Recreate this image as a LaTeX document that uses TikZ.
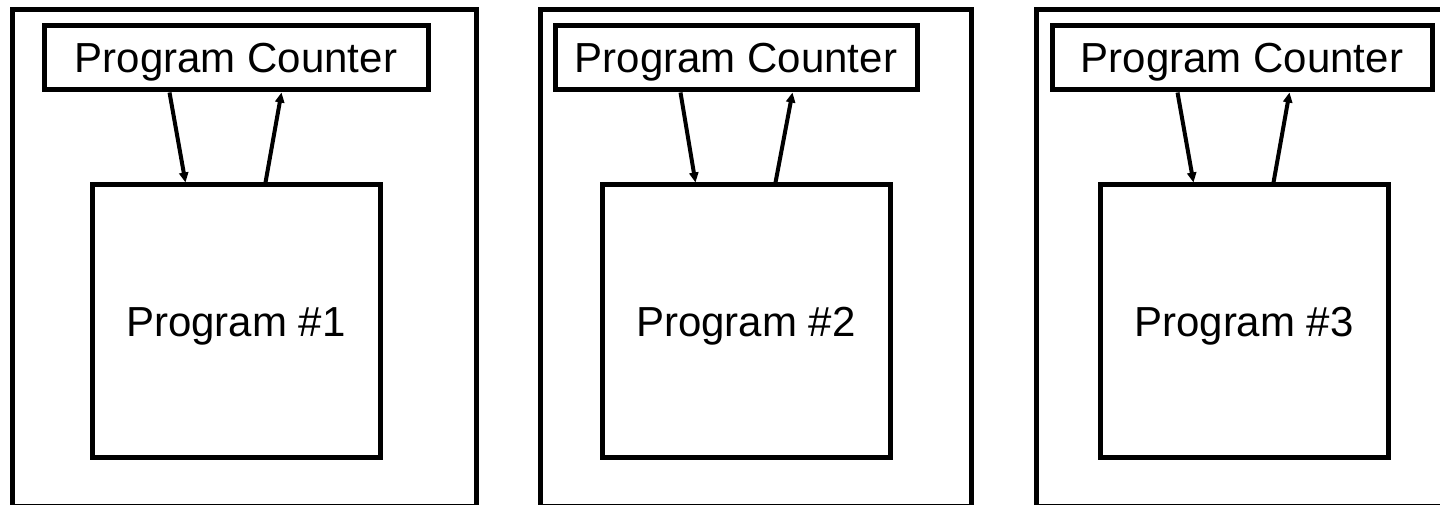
\documentclass[tikz,border=0pt]{standalone}
\usepackage{fontspec}
\setmainfont{Liberation Sans}
\usetikzlibrary{arrows.meta,calc}
\begin{document}
\begin{tikzpicture}[x=1pt,y=-1pt,
  frame/.style={draw=black,line width=5pt,inner sep=0pt,rectangle},
  pcbox/.style={draw=black,line width=5pt,inner sep=0pt,minimum height=64pt,
     font=\fontsize{42}{50}\selectfont,text height=30pt,text depth=0pt},
  progbox/.style={draw=black,line width=5pt,inner sep=0pt,minimum width=288pt,minimum height=272pt,
     font=\fontsize{42}{50}\selectfont,text height=30pt,text depth=0pt},
  arr/.style={line width=4pt,-{Triangle[length=10pt,width=9pt]}}]
\useasboundingbox (0,0) rectangle (1440,505);
\clip (0,0) rectangle (1440,505);
% outer frames
\node[frame,minimum width=464pt,minimum height=496pt] (f1) at (244,258) {};
\node[frame,minimum width=431pt,minimum height=496pt] (f2) at (755.5,258) {};
\node[frame,minimum width=464pt,minimum height=496pt] (f3) at (1268,258) {};
% program counters
\node[pcbox,minimum width=384pt] (pc1) at (236,58) {Program Counter};
\node[pcbox,minimum width=362pt] (pc2) at (736,58) {Program Counter};
\node[pcbox,minimum width=380pt] (pc3) at (1242,58) {Program Counter};
% programs
\node[progbox] (p1) at (236,321) {Program \#1};
\node[progbox] (p2) at (746,321) {Program \#2};
\node[progbox] (p3) at (1244,321) {Program \#3};
% arrows
\foreach \i in {1,2,3}{
  \draw[arr] ($(pc\i.south west)+(128,0)$) -- ($(p\i.north west)+(96,0)$);
  \draw[arr] ($(p\i.north west)+(176,0)$) -- ($(pc\i.south west)+(240,0)$);
}
\end{tikzpicture}
\end{document}
